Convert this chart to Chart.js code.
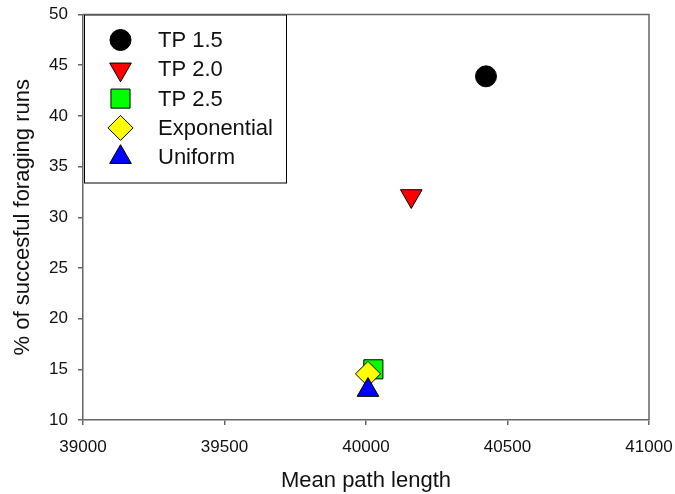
<!DOCTYPE html>
<html>
<head>
<meta charset="utf-8">
<script src="https://cdn.jsdelivr.net/npm/chart.js@4/dist/chart.umd.min.js"></script>
<style>
  html, body { margin: 0; padding: 0; background: #fff; }
  #wrap { width: 675px; height: 494px; }
</style>
</head>
<body>
<div id="wrap"><canvas id="scatterChart" width="675" height="494"></canvas></div>
<script>
// data
const seriesNames = ['TP 1.5', 'TP 2.0', 'TP 2.5', 'Exponential', 'Uniform'];
const pathLength = [40424, 40160, 40026, 40007, 40007];
const successRate = [43.9, 32.1, 15.0, 14.55, 12.95];
const xTicks = [39000, 39500, 40000, 40500, 41000];
const yTicks = [10, 15, 20, 25, 30, 35, 40, 45, 50];

const colors = ['#000000', '#ff0000', '#00ff00', '#ffff00', '#0000ff'];
const styles = ['circle', 'triangle', 'rect', 'rectRot', 'triangle'];
const rotations = [0, 180, 0, 0, 0];
const radii = [10.5, 12.5, 13.5, 12.5, 12.5];

const datasets = seriesNames.map((name, i) => ({
    label: name,
    data: [{x: pathLength[i], y: successRate[i]}],
    pointStyle: styles[i],
    rotation: rotations[i],
    pointRadius: radii[i],
    pointHoverRadius: radii[i],
    backgroundColor: colors[i],
    borderColor: '#000',
    borderWidth: 1,
    order: seriesNames.length - i
}));

// grey frame on top and right side
const framePlugin = {
    id: 'frame',
    beforeDatasetsDraw(chart) {
        const {ctx, chartArea: a} = chart;
        ctx.save();
        ctx.strokeStyle = '#666';
        ctx.lineWidth = 1.5;
        ctx.beginPath();
        ctx.moveTo(a.left, a.top);
        ctx.lineTo(a.right, a.top);
        ctx.lineTo(a.right, a.bottom);
        ctx.stroke();
        ctx.restore();
    }
};

// boxed legend in the upper left corner
const legendBox = {
    id: 'legendBox',
    afterDraw(chart) {
        const {ctx, chartArea: a} = chart;
        const x0 = a.left + 1, y0 = a.top;
        ctx.save();
        ctx.fillStyle = '#fff';
        ctx.fillRect(x0, y0, 203, 169);
        ctx.strokeStyle = '#000';
        ctx.lineWidth = 1;
        ctx.strokeRect(x0 + 0.5, y0 + 0.5, 202, 168);
        ctx.font = '22px "Liberation Sans", Arial, sans-serif';
        ctx.textBaseline = 'middle';
        chart.data.datasets.forEach((ds, i) => {
            const cy = y0 + 25.5 + i * 29.3;
            ctx.fillStyle = ds.backgroundColor;
            ctx.strokeStyle = ds.borderColor;
            ctx.lineWidth = ds.borderWidth;
            Chart.helpers.drawPoint(ctx, {
                pointStyle: ds.pointStyle,
                rotation: ds.rotation,
                radius: ds.pointRadius,
                borderWidth: ds.borderWidth
            }, x0 + 36.5, cy);
            ctx.fillStyle = '#111';
            ctx.fillText(ds.label, x0 + 74, cy + 1);
        });
        ctx.restore();
    }
};

const ctx = document.getElementById('scatterChart').getContext('2d');

const scatterChart = new Chart(ctx, {
    type: 'scatter',
    data: { datasets: datasets },
    options: {
        responsive: false,
        animation: false,
        layout: {
            padding: { top: 11, right: 26, left: 0, bottom: 0 }
        },
        plugins: {
            legend: { display: false },
            tooltip: { enabled: false }
        },
        scales: {
            x: {
                type: 'linear',
                min: 39000,
                max: 41000,
                afterBuildTicks: (scale) => { scale.ticks = xTicks.map(v => ({value: v})); },
                afterFit: (scale) => {
                    scale.height = 74;
                    scale.paddingLeft = 0;
                    scale.paddingRight = 0;
                },
                grid: { drawOnChartArea: false, drawTicks: true, tickLength: 5, color: '#666', lineWidth: 1.5 },
                border: { color: '#666', width: 1.5 },
                ticks: {
                    color: '#111',
                    padding: 12,
                    maxRotation: 0,
                    font: { size: 17, family: '"Liberation Sans", Arial' },
                    callback: (v) => String(v)
                },
                title: {
                    display: true,
                    text: 'Mean path length',
                    color: '#111',
                    font: { size: 22, family: '"Liberation Sans", Arial' },
                    padding: { top: 0, bottom: 0 }
                }
            },
            y: {
                type: 'linear',
                min: 10,
                max: 50,
                afterBuildTicks: (scale) => { scale.ticks = yTicks.map(v => ({value: v})); },
                afterFit: (scale) => {
                    scale.width = 83;
                    scale.paddingTop = 0;
                    scale.paddingBottom = 0;
                },
                grid: { drawOnChartArea: false, drawTicks: true, tickLength: 5, color: '#666', lineWidth: 1.5 },
                border: { color: '#666', width: 1.5 },
                ticks: {
                    color: '#111',
                    padding: 10,
                    font: { size: 17, family: '"Liberation Sans", Arial' }
                },
                title: {
                    display: true,
                    text: '% of succesful foraging runs',
                    color: '#111',
                    font: { size: 22, family: '"Liberation Sans", Arial' },
                    padding: { top: 10, bottom: 0 }
                }
            }
        }
    },
    plugins: [framePlugin, legendBox]
});
</script>
</body>
</html>
